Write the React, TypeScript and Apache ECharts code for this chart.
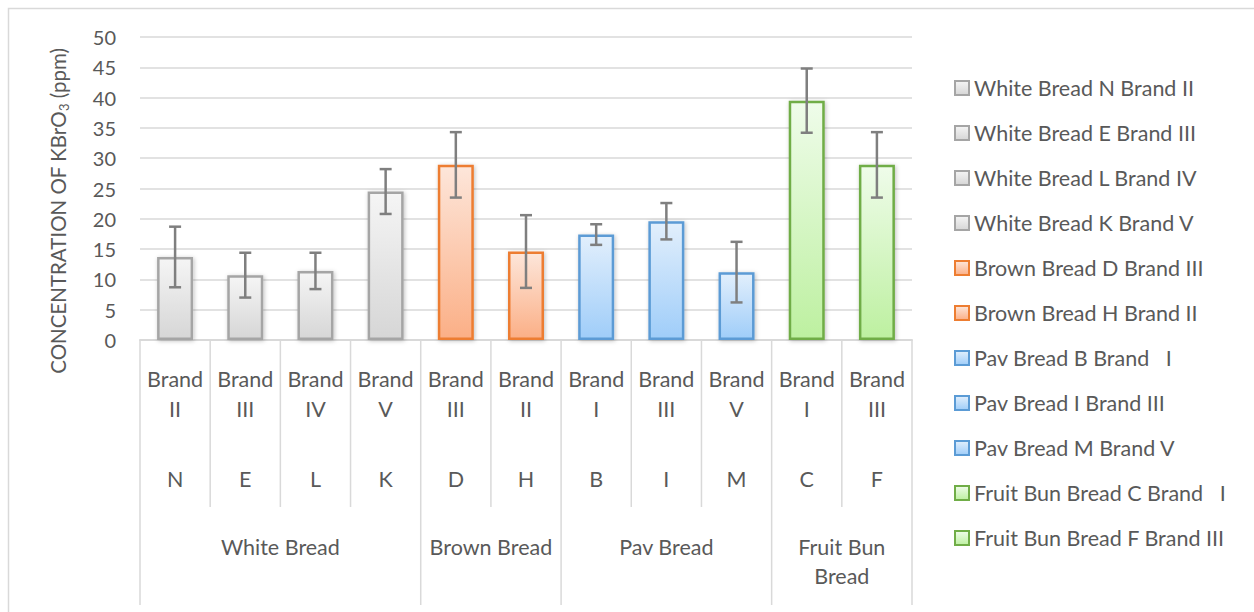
import React, { useEffect, useRef } from 'react';
import * as echarts from 'echarts';

const letters = ['N', 'E', 'L', 'K', 'D', 'H', 'B', 'I', 'M', 'C', 'F'];
const brands = ['II', 'III', 'IV', 'V', 'III', 'II', 'I', 'III', 'V', 'I', 'III'];
const groupNames = ['White Bread', 'Brown Bread', 'Pav Bread', 'Fruit Bun\nBread'];
const groupOf = [0, 0, 0, 0, 1, 1, 2, 2, 2, 3, 3];
const seriesNames = [
  'White Bread N Brand II',
  'White Bread E Brand III',
  'White Bread L Brand IV',
  'White Bread K Brand V',
  'Brown Bread D Brand III',
  'Brown Bread H Brand II',
  'Pav Bread B Brand   I',
  'Pav Bread I Brand III',
  'Pav Bread M Brand V',
  'Fruit Bun Bread C Brand   I',
  'Fruit Bun Bread F Brand III',
];
const values = [13.7, 10.7, 11.4, 24.5, 28.9, 14.6, 17.4, 19.6, 11.2, 39.5, 28.9];
const errors = [5.0, 3.7, 3.0, 3.7, 5.4, 6.0, 1.7, 3.0, 5.0, 5.3, 5.4];
const yTicks = { min: 0, max: 50, interval: 5 };

const groupStyles = [
  { border: '#a5a5a5', top: '#f5f5f5', bottom: '#d6d6d6' },
  { border: '#ed7d31', top: '#fde6da', bottom: '#fbaf86' },
  { border: '#5b9bd5', top: '#e2effc', bottom: '#9fcdf9' },
  { border: '#70ad47', top: '#effcea', bottom: '#bdf0a0' },
];

const FONT = 'Lato';
const TXT = '#595959';

export default function App() {
  const ref = useRef<HTMLDivElement>(null);
  useEffect(() => {
    const chart = echarts.init(ref.current!, null, { renderer: 'svg' });

    const barSeries = values.map((v, i) => {
      const gs = groupStyles[groupOf[i]];
      return {
        name: seriesNames[i],
        type: 'bar',
        barWidth: 36,
        barGap: '-100%',
        z: 2,
        data: values.map((_, j) => (j === i ? v : '-')),
        itemStyle: {
          color: new echarts.graphic.LinearGradient(0, 0, 0, 1, [
            { offset: 0, color: gs.top },
            { offset: 1, color: gs.bottom },
          ]),
          borderColor: gs.border,
          borderWidth: 2.5,
          shadowBlur: 4,
          shadowColor: 'rgba(0,0,0,0.25)',
          shadowOffsetX: 1,
          shadowOffsetY: 1,
        },
      };
    });

    const groupStart: number[] = [];
    const groupEnd: number[] = [];
    groupOf.forEach((g, i) => {
      if (groupStart[g] === undefined) groupStart[g] = i;
      groupEnd[g] = i;
    });

    const tableSeries = {
      type: 'custom',
      name: 'table',
      z: 1,
      silent: true,
      xAxisIndex: 0,
      yAxisIndex: 0,
      data: letters.map((_, i) => [i, 0]),
      encode: { x: 0, y: 1 },
      renderItem: (params: any, api: any) => {
        const i = params.dataIndex;
        const c = api.coord([i, 0]);
        const w = api.size([1, 0])[0];
        const left = c[0] - w / 2;
        const y0 = c[1];
        const g = groupOf[i];
        const isStart = groupStart[g] === i;
        const lineStyle = { stroke: '#d9d9d9', lineWidth: 1.5 };
        const children: any[] = [
          {
            type: 'line',
            shape: { x1: left, y1: y0, x2: left, y2: y0 + (isStart ? 265 : 167) },
            style: lineStyle,
          },
        ];
        if (i === letters.length - 1) {
          children.push({
            type: 'line',
            shape: { x1: left + w, y1: y0, x2: left + w, y2: y0 + 265 },
            style: lineStyle,
          });
        }
        if (isStart) {
          const a = api.coord([groupStart[g], 0])[0];
          const b = api.coord([groupEnd[g], 0])[0];
          children.push({
            type: 'text',
            x: (a + b) / 2,
            y: y0 + 192,
            style: {
              text: groupNames[g],
              fill: TXT,
              fontSize: 21.5,
              fontFamily: FONT,
              align: 'center',
              verticalAlign: 'top',
              lineHeight: 29,
            },
          });
        }
        return { type: 'group', children };
      },
    };

    const errorSeries = {
      type: 'custom',
      name: 'errors',
      z: 5,
      silent: true,
      data: values.map((v, i) => [i, v - errors[i], v + errors[i]]),
      encode: { x: 0, y: [1, 2] },
      renderItem: (params: any, api: any) => {
        const x = api.value(0);
        const lo = api.coord([x, api.value(1)]);
        const hi = api.coord([x, api.value(2)]);
        const cap = 6;
        const st = { stroke: '#7f7f7f', lineWidth: 2.5 };
        return {
          type: 'group',
          children: [
            { type: 'line', shape: { x1: lo[0], y1: lo[1], x2: hi[0], y2: hi[1] }, style: st },
            { type: 'line', shape: { x1: lo[0] - cap, y1: lo[1], x2: lo[0] + cap, y2: lo[1] }, style: st },
            { type: 'line', shape: { x1: hi[0] - cap, y1: hi[1], x2: hi[0] + cap, y2: hi[1] }, style: st },
          ],
        };
      },
    };

    const option: any = {
      animation: false,
      backgroundColor: '#ffffff',
      textStyle: { fontFamily: FONT, color: TXT },
      grid: { left: 140, right: 342, top: 37, bottom: 272, containLabel: false },
      legend: {
        orient: 'vertical',
        left: 949,
        top: 72,
        icon: 'rect',
        itemWidth: 14,
        itemHeight: 14,
        itemGap: 23,
        data: seriesNames,
        selectedMode: false,
        textStyle: { fontSize: 21.5, lineHeight: 22, color: TXT, fontFamily: FONT },
      },
      xAxis: [
        {
          type: 'category',
          position: 'bottom',
          data: letters,
          axisLine: { show: true, lineStyle: { color: '#d9d9d9', width: 2 } },
          axisTick: { show: false },
          axisLabel: {
            interval: 0,
            margin: 24,
            fontSize: 21.5,
            lineHeight: 30,
            color: TXT,
            fontFamily: FONT,
            formatter: (_v: string, idx: number) => `Brand\n${brands[idx]}`,
          },
        },
        {
          type: 'category',
          position: 'bottom',
          data: letters,
          axisLine: { show: false },
          axisTick: { show: false },
          axisLabel: {
            interval: 0,
            margin: 124,
            fontSize: 21.5,
            lineHeight: 30,
            color: TXT,
            fontFamily: FONT,
          },
        },
      ],
      yAxis: {
        type: 'value',
        min: yTicks.min,
        max: yTicks.max,
        interval: yTicks.interval,
        axisLine: { show: false },
        axisTick: { show: false },
        axisLabel: { margin: 24, fontSize: 20, color: TXT, fontFamily: FONT },
        splitLine: { lineStyle: { color: '#d9d9d9', width: 1.5 } },
      },
      graphic: [
        {
          type: 'rect',
          silent: true,
          shape: { x: 8.5, y: 8.5, width: 1270, height: 640 },
          style: { fill: 'none', stroke: '#d9d9d9', lineWidth: 1.5 },
          z: -1,
        },
        {
          type: 'text',
          x: 58,
          y: 211,
          rotation: Math.PI / 2,
          silent: true,
          style: {
            text: '{a|CONCENTRATION OF KBrO}{s|3}{a| (ppm)}',
            fill: TXT,
            align: 'center',
            verticalAlign: 'middle',
            fontFamily: FONT,
            fontSize: 20.5,
            rich: {
              a: { fontSize: 20.5, fontFamily: FONT, fill: TXT, lineHeight: 24 },
              s: { fontSize: 13, fontFamily: FONT, fill: TXT, lineHeight: 24, verticalAlign: 'bottom' },
            },
          },
        },
      ],
      series: [tableSeries, ...barSeries, errorSeries],
    };

    chart.setOption(option);
    return () => chart.dispose();
  }, []);
  return (
    <div
      ref={ref}
      style={{ position: 'fixed', left: 0, top: 0, width: 1254, height: 612 }}
    />
  );
}
